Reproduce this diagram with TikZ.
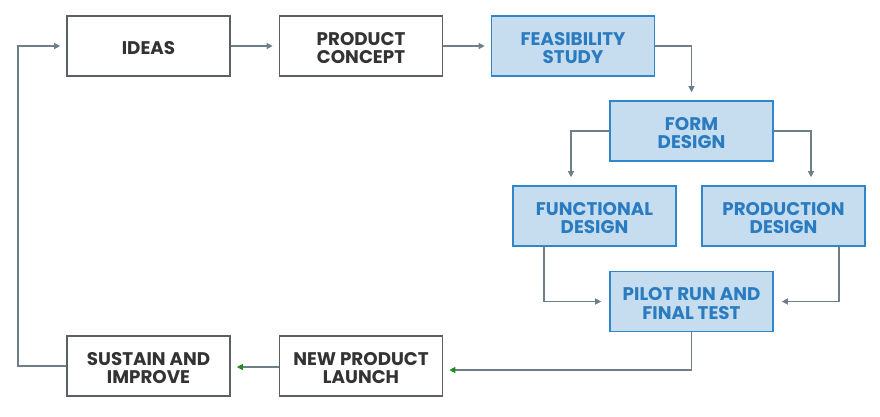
\documentclass[tikz,border=0pt]{standalone}
\usepackage{fontspec}
\setmainfont{Poppins}[BoldFont={Poppins Bold}]
\usetikzlibrary{arrows.meta}
\definecolor{lineg}{HTML}{6E7F8A}
\definecolor{boxg}{HTML}{5B6064}
\definecolor{txtg}{HTML}{333333}
\definecolor{blueb}{HTML}{2F86C8}
\definecolor{bluef}{HTML}{C6DDF0}
\definecolor{bluet}{HTML}{2A7BC0}
\definecolor{greent}{HTML}{1E8C1E}
\newcommand{\tstrut}{\rule{0pt}{17pt}}
\tikzset{
  plain/.style={draw=boxg, line width=1.6pt, fill=white, minimum width=163pt, minimum height=60pt,
    text=txtg, font=\bfseries\fontsize{18.3}{18.8}\selectfont, align=center, inner sep=0pt},
  blue/.style={plain, draw=blueb, fill=bluef, text=bluet},
  conn/.style={draw=lineg, line width=1.2pt, -{Triangle[length=6pt,width=6pt]}},
  gconn/.style={conn, -{Triangle[length=6pt,width=6pt,fill=greent,color=greent]}}
}
\begin{document}
\begin{tikzpicture}[x=1pt,y=-1pt]
\useasboundingbox (0,0) rectangle (880,416);
\node[plain] (ideas) at (148.5,46) {\tstrut IDEAS};
\node[plain] (concept) at (361,46) {\tstrut PRODUCT\\CONCEPT};
\node[blue] (feas) at (573,46) {\tstrut FEASIBILITY\\STUDY};
\node[blue] (form) at (691.5,131) {\tstrut FORM\\DESIGN};
\node[blue] (func) at (594.5,216) {\tstrut FUNCTIONAL\\DESIGN};
\node[blue] (prod) at (783.5,216) {\tstrut PRODUCTION\\DESIGN};
\node[blue] (pilot) at (691.5,301.5) {\tstrut PILOT RUN AND\\FINAL TEST};
\node[plain] (launch) at (361,366) {\tstrut NEW PRODUCT\\LAUNCH};
\node[plain] (sustain) at (148.5,366) {\tstrut SUSTAIN AND\\IMPROVE};
\coordinate (c1) at (18,366);
\draw[conn, shorten >=6pt] (ideas.east) -- (concept.west);
\draw[conn, shorten >=6pt] (concept.east) -- (feas.west);
\draw[conn, shorten >=8pt] (feas.east) -| (form.north);
\draw[conn, shorten >=8pt] (form.west) -| (func.north -| 571,0);
\draw[conn, shorten >=8pt] (form.east) -| (prod.north -| 811,0);
\draw[conn, shorten >=8pt] (func.south -| 544,0) |- (pilot.west);
\draw[conn, shorten >=8pt] (prod.south -| 839,0) |- (pilot.east);
\draw[gconn, shorten >=6pt] (pilot.south) |- (launch.east |- 0,370);
\draw[gconn, shorten >=6pt] (launch.west |- 0,367) -- (sustain.east |- 0,367);
\draw[conn, shorten >=6pt] (sustain.west) -- (c1) |- (ideas.west);
\end{tikzpicture}
\end{document}
